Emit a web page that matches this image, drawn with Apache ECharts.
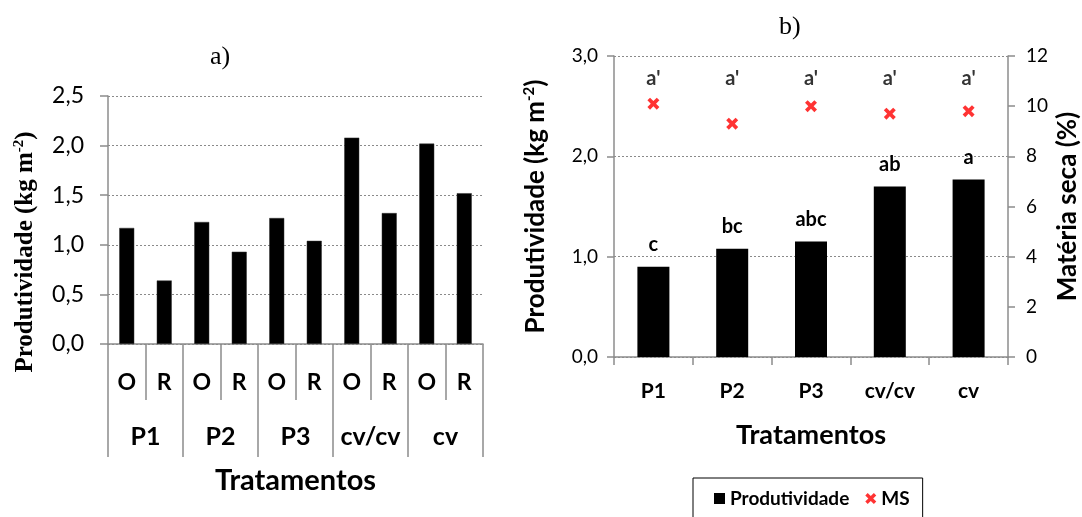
<!DOCTYPE html>
<html>
<head>
<meta charset="utf-8">
<script src="https://cdn.jsdelivr.net/npm/echarts@6/dist/echarts.min.js"></script>
<style>
  html, body { margin: 0; padding: 0; background: #fff; }
  #chart { width: 1082px; height: 517px; }
</style>
</head>
<body>
<div id="chart"></div>
<script>
// Panel a) - productivity per treatment and harvest (O / R)
const subCategories = ['O', 'R', 'O', 'R', 'O', 'R', 'O', 'R', 'O', 'R'];
const treatments = ['P1', 'P2', 'P3', 'cv/cv', 'cv'];
const prodA = [1.17, 0.64, 1.23, 0.93, 1.27, 1.04, 2.08, 1.32, 2.02, 1.52];

// Panel b) - mean productivity and dry matter per treatment
const prodB = [0.90, 1.08, 1.15, 1.70, 1.77];
const msB = [10.1, 9.3, 10.0, 9.7, 9.8];
const prodLetters = ['c', 'bc', 'abc', 'ab', 'a'];
const msLetters = ["a'", "a'", "a'", "a'", "a'"];
const msLetterLevel = 2.78; // height of the MS letter row, left axis units

const SANS = 'Lato';
const SERIF = 'Liberation Serif';
const GRAY = '#8c8c8c';
const RED = '#ff0000';
const X_PATH = 'path://M0,2.2 L2.2,0 L5,2.8 L7.8,0 L10,2.2 L7.2,5 L10,7.8 L7.8,10 L5,7.2 L2.2,10 L0,7.8 L2.8,5 Z';

const comma1 = v => v.toFixed(1).replace('.', ',');
const grid = { type: [2, 2], color: '#8a8a8a', width: 1 };

const chart = echarts.init(document.getElementById('chart'), null, { renderer: 'canvas' });

chart.setOption({
  animation: false,
  backgroundColor: '#fff',
  grid: [
    { left: 108, right: 1082 - 483, top: 96, bottom: 517 - 344, containLabel: false },
    { left: 614, right: 1082 - 1009, top: 56, bottom: 517 - 357, containLabel: false }
  ],
  xAxis: [
    {
      gridIndex: 0, type: 'category', data: subCategories, position: 'bottom',
      axisLine: { show: true, lineStyle: { color: GRAY, width: 1.5 } },
      axisTick: { show: true, interval: 0, length: 56, lineStyle: { color: GRAY, width: 1.5 } },
      axisLabel: { interval: 0, margin: 27, color: '#000', fontFamily: SANS, fontWeight: 'bold', fontSize: 23 }
    },
    {
      gridIndex: 0, type: 'category', data: treatments, position: 'bottom',
      axisLine: { show: false },
      axisTick: { show: true, interval: 0, length: 113, lineStyle: { color: GRAY, width: 1.5 } },
      axisLabel: { interval: 0, margin: 80, color: '#000', fontFamily: SANS, fontWeight: 'bold', fontSize: 25 },
      name: 'Tratamentos', nameLocation: 'middle', nameGap: 122,
      nameTextStyle: { color: '#000', fontFamily: SANS, fontWeight: 'bold', fontSize: 29 }
    },
    {
      gridIndex: 1, type: 'category', data: treatments, position: 'bottom',
      axisLine: { show: true, lineStyle: { color: GRAY, width: 1.5 } },
      axisTick: { show: true, interval: 0, length: 8, lineStyle: { color: GRAY, width: 1.5 } },
      axisLabel: { interval: 0, margin: 24, color: '#000', fontFamily: SANS, fontWeight: 'bold', fontSize: 21 },
      name: 'Tratamentos', nameLocation: 'middle', nameGap: 65,
      nameTextStyle: { color: '#000', fontFamily: SANS, fontWeight: 'bold', fontSize: 27 }
    }
  ],
  yAxis: [
    {
      gridIndex: 0, type: 'value', min: 0, max: 2.5, interval: 0.5,
      axisLine: { show: true, lineStyle: { color: GRAY, width: 1.5 } },
      axisTick: { show: true, length: 8, lineStyle: { color: GRAY, width: 1.5 } },
      axisLabel: { margin: 24, color: '#000', fontFamily: SANS, fontSize: 23, formatter: comma1 },
      splitLine: { show: true, lineStyle: grid }
    },
    {
      gridIndex: 1, type: 'value', position: 'left', min: 0, max: 3, interval: 1,
      axisLine: { show: true, lineStyle: { color: GRAY, width: 1.5 } },
      axisTick: { show: true, length: 7, lineStyle: { color: GRAY, width: 1.5 } },
      axisLabel: { margin: 16, color: '#000', fontFamily: SANS, fontSize: 19, formatter: comma1 },
      splitLine: { show: true, lineStyle: grid },
      name: '{t|Produtividade (kg m}{s|-2}{t|)}', nameLocation: 'middle', nameGap: 64,
      nameTextStyle: {
        rich: {
          t: { color: '#000', fontFamily: SANS, fontWeight: 'bold', fontSize: 26, lineHeight: 28 },
          s: { color: '#000', fontFamily: SANS, fontWeight: 'bold', fontSize: 15, verticalAlign: 'top', lineHeight: 28 }
        }
      }
    },
    {
      gridIndex: 1, type: 'value', position: 'right', min: 0, max: 12, interval: 2,
      axisLine: { show: true, lineStyle: { color: GRAY, width: 1.5 } },
      axisTick: { show: true, length: 7, lineStyle: { color: GRAY, width: 1.5 } },
      axisLabel: { margin: 18, color: '#000', fontFamily: SANS, fontSize: 19 },
      splitLine: { show: false },
      name: 'Matéria seca (%)', nameLocation: 'middle', nameGap: 47,
      nameTextStyle: { color: '#000', fontFamily: SANS, fontWeight: 'bold', fontSize: 26 }
    }
  ],
  legend: {
    show: true,
    left: 693, top: 478,
    padding: [11, 13, 14, 21],
    itemGap: 16, itemWidth: 11, itemHeight: 11,
    borderColor: '#000', borderWidth: 1,
    textStyle: { color: '#000', fontFamily: SANS, fontWeight: 'bold', fontSize: 19 },
    data: [
      { name: 'Produtividade', icon: 'rect' },
      { name: 'MS', icon: X_PATH }
    ]
  },
  series: [
    {
      name: 'Produtividade a', type: 'bar', xAxisIndex: 0, yAxisIndex: 0,
      data: prodA, barWidth: 15,
      itemStyle: { color: '#000', borderColor: '#333', borderWidth: 0.5 }
    },
    {
      name: 'Produtividade', type: 'bar', xAxisIndex: 2, yAxisIndex: 1,
      data: prodB, barWidth: 32,
      itemStyle: { color: '#000' },
      label: {
        show: true, position: 'top', distance: 12,
        color: '#000', fontFamily: SANS, fontWeight: 'bold', fontSize: 20,
        formatter: p => prodLetters[p.dataIndex]
      }
    },
    {
      name: 'MS', type: 'scatter', xAxisIndex: 2, yAxisIndex: 2,
      data: msB, symbol: X_PATH, symbolSize: 12,
      itemStyle: { color: RED }
    },
    {
      name: 'letras MS', type: 'scatter', xAxisIndex: 2, yAxisIndex: 1,
      data: msLetters.map(() => msLetterLevel), symbolSize: 1,
      itemStyle: { color: 'rgba(0,0,0,0)' },
      label: {
        show: true, position: 'inside',
        color: '#000', fontFamily: SANS, fontWeight: 'bold', fontSize: 20,
        formatter: p => msLetters[p.dataIndex]
      }
    }
  ],
  graphic: [
    {
      type: 'text', left: 222 - 12, top: 44,
      style: { text: 'a)', fill: '#000', font: '26px "' + SERIF + '"' }
    },
    {
      type: 'text', left: 791 - 12, top: 14,
      style: { text: 'b)', fill: '#000', font: '26px "' + SERIF + '"' }
    },
    {
      type: 'text', x: 26, y: 252, rotation: Math.PI / 2,
      style: {
        text: '{t|Produtividade (kg m}{s|-2}{t|)}',
        align: 'center', verticalAlign: 'middle',
        rich: {
          t: { fill: '#000', fontFamily: SERIF, fontWeight: 'bold', fontSize: 25, lineHeight: 28 },
          s: { fill: '#000', fontFamily: SERIF, fontWeight: 'bold', fontSize: 15, verticalAlign: 'top', lineHeight: 28 }
        }
      }
    }
  ]
});
</script>
</body>
</html>
